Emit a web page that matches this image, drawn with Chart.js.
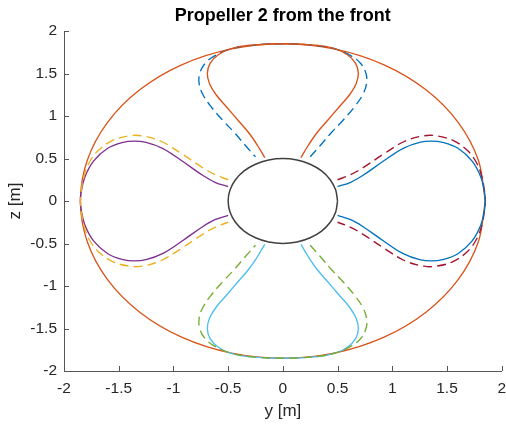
<!DOCTYPE html>
<html>
<head>
<meta charset="utf-8">
<script src="https://cdn.jsdelivr.net/npm/chart.js@4.4.1/dist/chart.umd.min.js"></script>
<style>
  html, body { margin: 0; padding: 0; background: #ffffff; }
  canvas { display: block; }
</style>
</head>
<body>
<canvas id="c" width="506" height="427"></canvas>
<script>
// Axis ticks (both axes share the same range)
const tickValues = [-2, -1.5, -1, -0.5, 0, 0.5, 1, 1.5, 2];
const tickLabels = ['-2', '-1.5', '-1', '-0.5', '0', '0.5', '1', '1.5', '2'];
const chartTitle = 'Propeller 2 from the front';

// Blades along the y axis (left / right): distance from the hub centre [m] and half-width [m]
const sideR = [0.50, 0.62, 0.73, 0.92, 1.10, 1.25, 1.36, 1.46, 1.60, 1.73, 1.81, 1.845, 1.85];
const sideW = [0.17, 0.22, 0.30, 0.47, 0.62, 0.69, 0.705, 0.69, 0.62, 0.47, 0.28, 0.09, 0.00];
// widened outline (dashed)
const sideWideR = [0.50, 0.62, 0.73, 0.93, 1.11, 1.29, 1.41, 1.56, 1.69, 1.77, 1.815, 1.845, 1.85];
const sideWideW = [0.25, 0.31, 0.39, 0.56, 0.70, 0.767, 0.765, 0.71, 0.59, 0.45, 0.30, 0.10, 0.00];

// Blades along the z axis (top / bottom)
const vertR = [0.51, 0.65, 0.80, 0.95, 1.10, 1.25, 1.38, 1.50, 1.62, 1.72, 1.79, 1.83, 1.85];
const vertW = [0.165, 0.23, 0.31, 0.41, 0.51, 0.61, 0.67, 0.69, 0.665, 0.59, 0.48, 0.32, 0.00];
// widened outline (dashed)
const vertWideR = [0.52, 0.65, 0.80, 0.95, 1.10, 1.25, 1.38, 1.50, 1.62, 1.71, 1.78, 1.825, 1.85];
const vertWideW = [0.25, 0.34, 0.44, 0.55, 0.65, 0.73, 0.765, 0.76, 0.71, 0.62, 0.50, 0.34, 0.00];

// Quarter arcs (0..90 deg, 15 deg steps) of the tip circle and the hub
const rimY = [1.85, 1.787, 1.602, 1.308, 0.925, 0.479, 0];
const rimZ = [0, 0.479, 0.925, 1.308, 1.602, 1.787, 1.85];
const hubY = [0.50, 0.483, 0.433, 0.354, 0.250, 0.129, 0];
const hubZ = [0, 0.129, 0.250, 0.354, 0.433, 0.483, 0.50];

// Build a full closed ring from a quarter arc, going counter-clockwise from +y
function ring(qy, qz) {
  const pts = [];
  for (let i = 0; i < qy.length; i++) pts.push({x: qy[i], y: qz[i]});
  for (let i = qy.length - 2; i >= 0; i--) pts.push({x: -qy[i], y: qz[i]});
  for (let i = 1; i < qy.length; i++) pts.push({x: -qy[i], y: -qz[i]});
  for (let i = qy.length - 2; i >= 0; i--) pts.push({x: qy[i], y: -qz[i]});
  return pts;
}

// Blade outline in the plane: one side from hub to tip, back along the other side
function blade(rs, ws, dir) {
  const local = [];
  for (let i = 0; i < rs.length; i++) local.push([rs[i], ws[i]]);
  for (let i = rs.length - 2; i >= 0; i--) local.push([rs[i], -ws[i]]);
  return local.map(([r, w]) => {
    if (dir === 'right') return {x: r, y: w};
    if (dir === 'left') return {x: -r, y: w};
    if (dir === 'up') return {x: w, y: r};
    return {x: w, y: -r};
  });
}

function solid(data, color, width) {
  return { data, borderColor: color, borderWidth: width || 1.35, showLine: true,
           tension: 0.38, pointRadius: 0, fill: false };
}
function dashed(data, color) {
  return { data, borderColor: color, borderWidth: 1.35, borderDash: [9, 5], showLine: true,
           tension: 0.38, pointRadius: 0, fill: false };
}

const datasets = [
  solid(blade(sideR, sideW, 'right'), '#0072BD'),
  solid(blade(vertR, vertW, 'up'), '#D95319'),
  dashed(blade(sideWideR, sideWideW, 'left'), '#EDB120'),
  solid(blade(sideR, sideW, 'left'), '#7E2F8E'),
  dashed(blade(vertWideR, vertWideW, 'down'), '#77AC30'),
  solid(blade(vertR, vertW, 'down'), '#4DBEEE'),
  dashed(blade(sideWideR, sideWideW, 'right'), '#A2142F'),
  dashed(blade(vertWideR, vertWideW, 'up'), '#0072BD'),
  Object.assign(solid(ring(rimY, rimZ), '#D95319', 1.3), {tension: 0.33}),
  Object.assign(solid(ring(hubY, hubZ), '#404040', 1.5), {tension: 0.33})
];

const axisColor = '#555555';
const textColor = '#262626';
const sans = '"Liberation Sans", Arial, Helvetica, sans-serif';

// Short tick marks pointing into the plot area, plus the title centred over the axes
const axesDecor = {
  id: 'axesDecor',
  afterDraw(chart) {
    const {ctx, chartArea, scales} = chart;
    const len = 5;
    ctx.save();
    ctx.strokeStyle = axisColor;
    ctx.lineWidth = 1;
    ctx.beginPath();
    tickValues.forEach(v => {
      const px = Math.round(scales.x.getPixelForValue(v)) + 0.5;
      ctx.moveTo(px, chartArea.bottom);
      ctx.lineTo(px, chartArea.bottom - len);
      const py = Math.round(scales.y.getPixelForValue(v)) + 0.5;
      ctx.moveTo(chartArea.left, py);
      ctx.lineTo(chartArea.left + len, py);
    });
    ctx.stroke();

    ctx.fillStyle = '#000000';
    ctx.font = 'bold 18px ' + sans;
    ctx.textAlign = 'center';
    ctx.textBaseline = 'middle';
    ctx.fillText(chartTitle, (chartArea.left + chartArea.right) / 2, 16);
    ctx.restore();
  }
};

function axis(titleText, opts, size) {
  return {
    type: 'linear', min: -2, max: 2,
    afterBuildTicks: s => { s.ticks = tickValues.map(v => ({value: v})); },
    ticks: {
      autoSkip: false, maxRotation: 0,
      callback: (v, i) => tickLabels[i],
      color: textColor,
      font: {family: sans, size: 15.5},
      padding: opts.tick
    },
    // tick marks themselves are drawn by axesDecor; tickLength only spaces the labels
    grid: {display: false, drawTicks: true, tickLength: opts.gap},
    border: {display: true, color: axisColor, width: 1},
    title: {
      display: true, text: titleText, color: textColor,
      font: {family: sans, size: 17},
      padding: opts.title
    },
    afterFit: size
  };
}

new Chart(document.getElementById('c').getContext('2d'), {
  type: 'scatter',
  data: { datasets },
  options: {
    responsive: false,
    animation: false,
    events: [],
    layout: { padding: { left: 0, right: 4, top: 31, bottom: 0 } },
    plugins: {
      legend: { display: false },
      tooltip: { enabled: false },
      title: { display: false }
    },
    scales: {
      x: axis('y [m]', {tick: 0, gap: 8, title: {top: 0, bottom: 5.8}}, s => { s.height = 56; }),
      y: axis('z [m]', {tick: 0, gap: 7, title: {top: 4.8, bottom: 0}}, s => { s.width = 64; })
    }
  },
  plugins: [axesDecor]
});
</script>
</body>
</html>
